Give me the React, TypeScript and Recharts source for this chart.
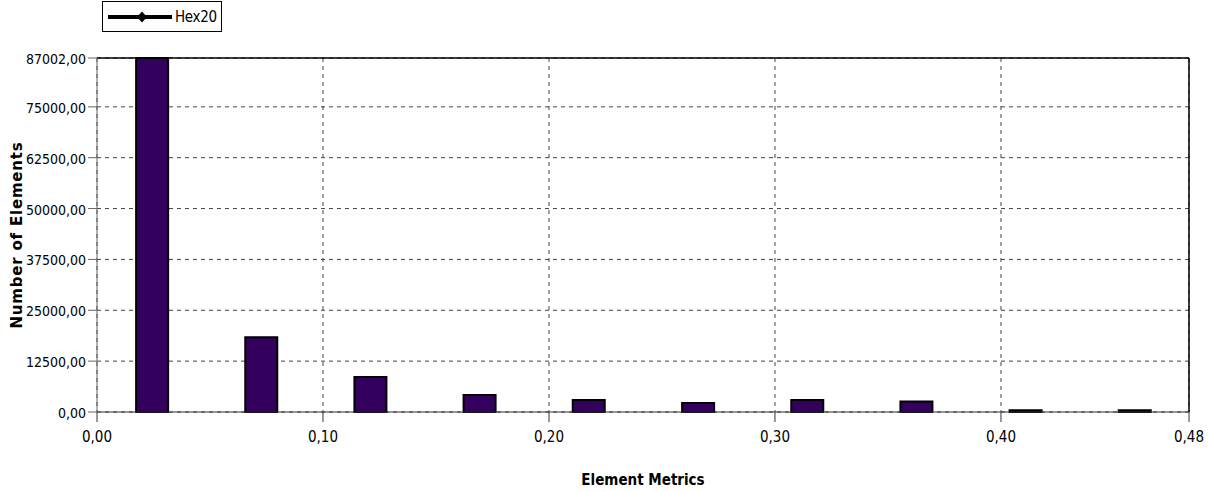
import React from 'react'
import {
  ComposedChart,
  Bar,
  XAxis,
  YAxis,
  CartesianGrid,
  ReferenceLine,
  Legend,
  Label,
} from 'recharts'

const binCenters = [0.0242, 0.0725, 0.1208, 0.1691, 0.2174, 0.2658, 0.3141, 0.3624, 0.4107, 0.459]
const counts = [87002, 18400, 8600, 4200, 2950, 2200, 2950, 2550, 450, 450]
const xTicks = [0, 0.1, 0.2, 0.3, 0.4, 0.4832]
const yTicks = [0, 12500, 25000, 37500, 50000, 62500, 75000, 87002]

const data = binCenters.map((x, i) => ({ x, count: counts[i] }))

const tickFont = "'DejaVu Sans Condensed', 'Liberation Sans Narrow', sans-serif"
const fmt = (v: number) => v.toFixed(2).replace('.', ',')

function HexLegend() {
  return (
    <div
      style={{
        position: 'absolute',
        left: 102,
        top: 1,
        width: 118,
        height: 29,
        border: '1px solid #000',
        background: '#fff',
        display: 'flex',
        alignItems: 'center',
        fontFamily: tickFont,
        fontSize: 15,
        color: '#000',
      }}
    >
      <svg width={66} height={20} style={{ marginLeft: 5 }}>
        <line x1={0} y1={10} x2={64} y2={10} stroke="#000" strokeWidth={4} />
        <polygon points="34,4.5 39,10 34,15.5 29,10" fill="#000" />
      </svg>
      <span style={{ marginLeft: 1, letterSpacing: -0.3 }}>Hex20</span>
    </div>
  )
}

export default function App() {
  return (
    <div style={{ position: 'absolute', left: 0, top: 0, width: 1209, height: 492, background: '#fff' }}>
      <ComposedChart
        width={1209}
        height={492}
        data={data}
        margin={{ top: 58, right: 20, left: 0, bottom: 0 }}
      >
        <CartesianGrid strokeDasharray="4 4" stroke="#444" />
        <XAxis
          type="number"
          dataKey="x"
          domain={[0, 0.4832]}
          ticks={xTicks}
          tickFormatter={fmt}
          height={80}
          tickSize={10}
          stroke="#333"
          tick={{ fontSize: 15, fill: '#000', fontFamily: tickFont, dy: 7 }}
          allowDataOverflow
        >
          <Label
            value="Element Metrics"
            position="insideBottom"
            offset={7}
            style={{ fontSize: 15, fontWeight: 'bold', fill: '#000', fontFamily: tickFont }}
          />
        </XAxis>
        <YAxis
          domain={[0, 87002]}
          ticks={yTicks}
          tickFormatter={fmt}
          width={97}
          tickSize={9}
          stroke="#666"
          tick={{ fontSize: 14, fill: '#000', fontFamily: tickFont, dy: 1 }}
          interval={0}
        >
          <Label
            value="Number of Elements"
            angle={-90}
            position="insideLeft"
            offset={17}
            style={{
              fontSize: 15,
              fontWeight: 'bold',
              fill: '#000',
              fontFamily: "'DejaVu Sans', Verdana, sans-serif",
              textAnchor: 'middle',
              letterSpacing: 0.8,
            }}
          />
        </YAxis>
        <ReferenceLine y={87002} stroke="#000" strokeWidth={1.5} />
        <ReferenceLine x={0.4832} stroke="#000" strokeWidth={1.5} />
        <Legend content={() => <HexLegend />} wrapperStyle={{ position: 'absolute', left: 0, top: 0 }} />
        <Bar
          dataKey="count"
          barSize={32}
          fill="#33005e"
          stroke="#000"
          strokeWidth={2}
          isAnimationActive={false}
        />
      </ComposedChart>
    </div>
  )
}
